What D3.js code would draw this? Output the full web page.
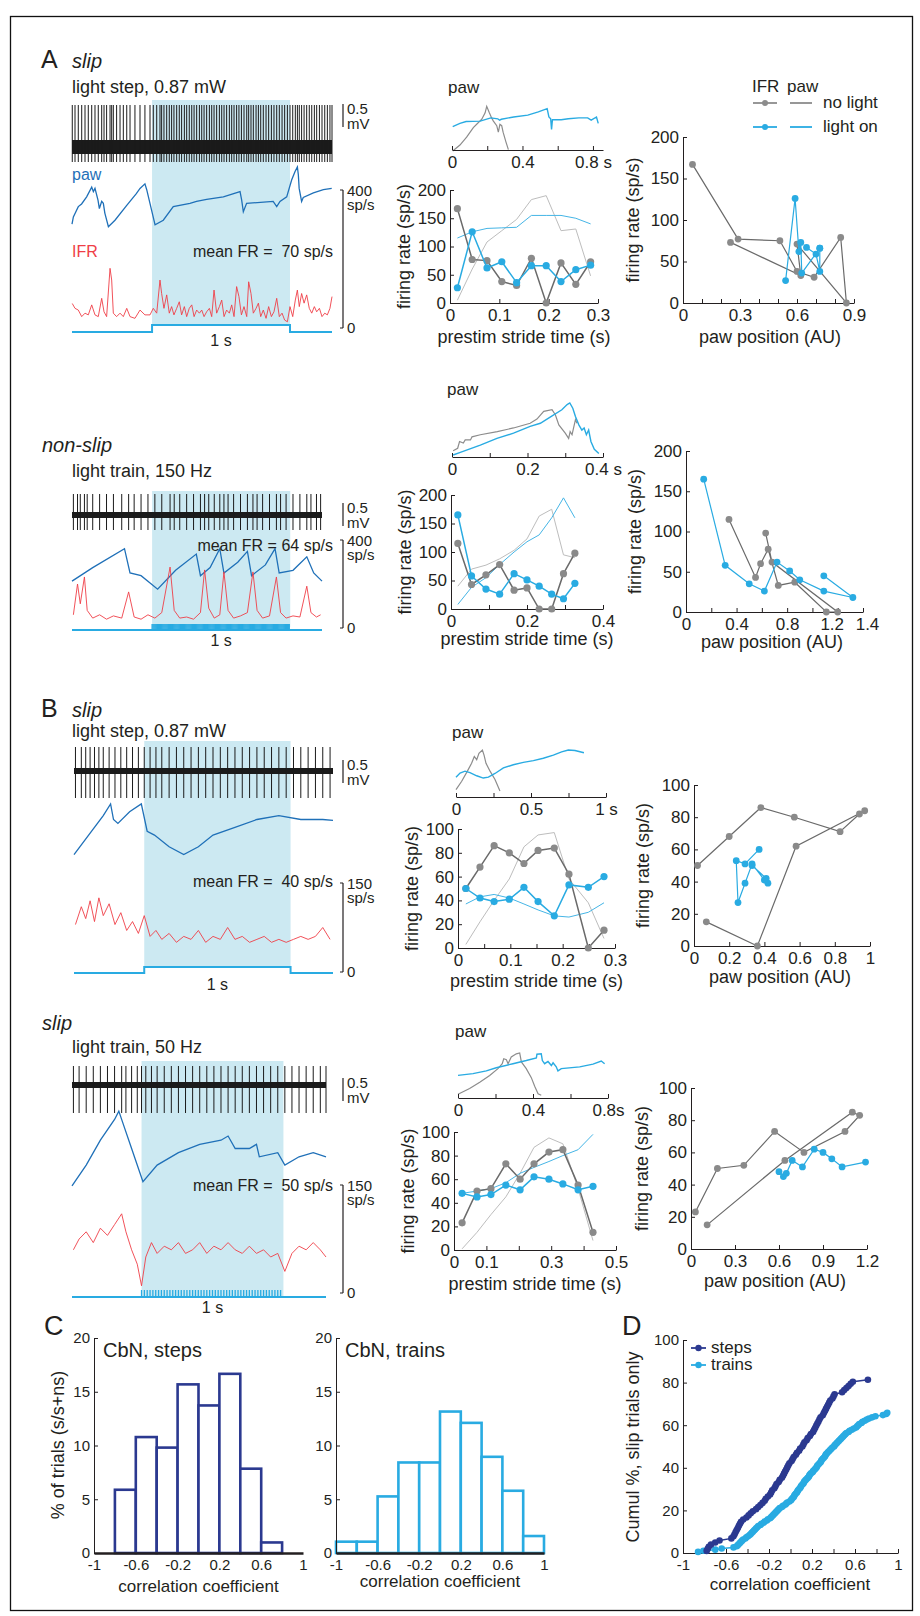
<!DOCTYPE html>
<html>
<head>
<meta charset="utf-8">
<script src="https://cdn.jsdelivr.net/npm/d3@7"></script>
<style>
  body { margin: 0; background: #fff; }
  text { font-family: "Liberation Sans", Arial, Helvetica, sans-serif; }
</style>
</head>
<body>
<svg id="fig" width="920" height="1616"></svg>
<script>
// ---------- colours ----------
const INK = "#231f20"
const GRAY_DOT = "#8a8a8a", GRAY_LINE = "#6a6a6a", GRAY_THIN = "#bdbdbd"
const BLUE = "#29abe2", BLUE_THIN = "#45b5e6"
const LIGHT = "#cce9f2", RED = "#ef3e47", PAW = "#1f70b8"
const STEPS = "#2b3990", TRAINS = "#29abe2"

// ---------- left traces: [time (s), IFR (sp/s)], spikes sit at these times ----------
const aSlipIfr = [[0.002,71],[0.022,57],[0.046,52],[0.071,33],[0.095,43],[0.119,38],[0.144,67],[0.168,38],[0.192,33],[0.217,86],[0.234,47],[0.253,33],[0.278,173],[0.29,139],[0.302,43],[0.326,33],[0.351,43],[0.375,33],[0.4,57],[0.424,33],[0.46,28],[0.497,52],[0.533,38],[0.57,38],[0.594,57],[0.619,43],[0.643,139],[0.655,100],[0.672,57],[0.692,96],[0.711,43],[0.728,62],[0.745,38],[0.765,57],[0.784,76],[0.801,38],[0.821,62],[0.838,33],[0.857,57],[0.875,67],[0.892,33],[0.911,52],[0.931,43],[0.948,52],[0.965,33],[0.984,47],[1.004,57],[1.021,33],[1.038,110],[1.057,43],[1.077,62],[1.094,81],[1.111,33],[1.13,52],[1.15,43],[1.167,67],[1.184,33],[1.203,120],[1.22,91],[1.238,38],[1.257,62],[1.277,33],[1.291,134],[1.308,100],[1.325,43],[1.345,57],[1.362,72],[1.379,33],[1.398,52],[1.418,28],[1.437,62],[1.457,33],[1.476,47],[1.496,86],[1.515,33],[1.535,43],[1.554,23],[1.574,18],[1.593,62],[1.613,33],[1.632,81],[1.647,110],[1.661,62],[1.678,100],[1.696,72],[1.715,96],[1.734,57],[1.752,43],[1.771,62],[1.788,47],[1.808,57],[1.827,33],[1.847,43],[1.866,38],[1.885,57],[1.9,91]]
const aSlipPaw = [[0,0.09],[0.01,0.2],[0.046,0.36],[0.07,0.4],[0.107,0.51],[0.144,0.66],[0.156,0.59],[0.168,0.64],[0.19,0.46],[0.2,0.33],[0.217,0.44],[0.229,0.41],[0.24,0.26],[0.266,0.05],[0.314,0.15],[0.4,0.38],[0.47,0.56],[0.497,0.64],[0.533,0.71],[0.546,0.62],[0.607,0.08],[0.667,0.15],[0.74,0.36],[0.862,0.41],[0.91,0.44],[0.984,0.47],[1.106,0.51],[1.228,0.59],[1.24,0.46],[1.252,0.28],[1.276,0.41],[1.47,0.44],[1.496,0.36],[1.52,0.44],[1.569,0.51],[1.605,0.77],[1.63,0.9],[1.647,0.97],[1.654,0.85],[1.66,0.64],[1.678,0.44],[1.69,0.5],[1.764,0.57],[1.837,0.62],[1.898,0.64]]

const aNsIfr = [[0.01,60],[0.04,200],[0.06,110],[0.09,232],[0.11,80],[0.15,45],[0.2,60],[0.25,40],[0.3,55],[0.36,45],[0.41,164],[0.45,50],[0.5,40],[0.55,60],[0.6,45],[0.65,70],[0.71,277],[0.74,80],[0.78,45],[0.83,50],[0.88,40],[0.93,70],[0.96,264],[0.99,90],[1.03,45],[1.07,60],[1.1,255],[1.13,80],[1.17,45],[1.22,55],[1.27,70],[1.31,255],[1.34,80],[1.38,45],[1.43,55],[1.48,232],[1.51,70],[1.55,45],[1.6,55],[1.65,50],[1.7,190],[1.73,70],[1.77,50],[1.8,60]]
const aNsPaw = [[0,0.35],[0.15,0.6],[0.38,0.95],[0.42,0.5],[0.5,0.45],[0.62,0.2],[0.75,0.55],[0.9,0.85],[0.93,0.45],[1.0,0.6],[1.07,0.95],[1.1,0.5],[1.2,0.7],[1.27,0.9],[1.3,0.45],[1.4,0.65],[1.47,0.95],[1.5,0.5],[1.6,0.55],[1.7,0.8],[1.75,0.5],[1.81,0.35]]

const bSlipIfr = [[0.01,80],[0.05,110],[0.08,90],[0.11,120],[0.14,85],[0.17,125],[0.2,95],[0.24,115],[0.28,80],[0.32,100],[0.36,70],[0.4,85],[0.44,65],[0.48,95],[0.52,60],[0.56,70],[0.6,55],[0.65,65],[0.7,50],[0.75,60],[0.8,55],[0.85,70],[0.9,50],[0.95,60],[1.0,55],[1.05,75],[1.1,55],[1.15,60],[1.2,50],[1.25,55],[1.3,60],[1.35,50],[1.4,55],[1.45,50],[1.5,55],[1.55,60],[1.6,55],[1.65,60],[1.7,75],[1.75,55]]
const bSlipPaw = [[0,0.3],[0.1,0.55],[0.2,0.8],[0.25,0.95],[0.27,0.75],[0.3,0.7],[0.38,0.85],[0.46,0.95],[0.5,0.6],[0.55,0.55],[0.65,0.4],[0.75,0.3],[0.85,0.4],[0.95,0.55],[1.1,0.65],[1.25,0.75],[1.4,0.8],[1.55,0.75],[1.7,0.75],[1.77,0.74]]

const bTrIfr = [[0.01,60],[0.05,75],[0.1,85],[0.15,70],[0.2,90],[0.25,80],[0.3,95],[0.35,110],[0.38,85],[0.42,60],[0.46,40],[0.49,10],[0.52,50],[0.56,70],[0.6,55],[0.65,65],[0.7,60],[0.75,70],[0.8,55],[0.85,60],[0.9,70],[0.95,55],[1.0,65],[1.05,60],[1.1,70],[1.15,60],[1.2,55],[1.25,65],[1.3,55],[1.35,60],[1.4,50],[1.45,55],[1.5,30],[1.55,55],[1.6,65],[1.65,60],[1.7,70],[1.75,60],[1.79,50]]
const bTrPaw = [[0,0.05],[0.1,0.3],[0.2,0.6],[0.3,0.85],[0.33,0.95],[0.36,0.8],[0.42,0.5],[0.5,0.1],[0.6,0.3],[0.75,0.45],[0.9,0.55],[1.05,0.6],[1.1,0.65],[1.15,0.5],[1.25,0.5],[1.3,0.55],[1.32,0.4],[1.45,0.45],[1.5,0.3],[1.6,0.4],[1.7,0.45],[1.79,0.4]]

// ---------- middle: paw vs time in stride [time (s), AU] ----------
const aSlipMiniGray = [[0.004,0],[0.045,0.13],[0.083,0.3],[0.121,0.51],[0.15,0.62],[0.169,0.69],[0.188,0.83],[0.197,0.97],[0.212,0.83],[0.225,0.72],[0.235,0.65],[0.254,0.55],[0.263,0.41],[0.272,0.58],[0.282,0.55],[0.29,0.41],[0.306,0.2],[0.32,0.03]]
const aSlipMiniBlue = [[0.004,0.53],[0.045,0.6],[0.08,0.64],[0.16,0.65],[0.22,0.72],[0.26,0.7],[0.27,0.67],[0.28,0.69],[0.35,0.74],[0.43,0.78],[0.49,0.85],[0.54,0.92],[0.55,0.74],[0.56,0.7],[0.565,0.47],[0.57,0.68],[0.62,0.68],[0.66,0.7],[0.72,0.72],[0.77,0.72],[0.79,0.67],[0.82,0.74],[0.83,0.6]]
const aNsMiniGray = [[0.003,0.08],[0.015,0.13],[0.02,0.26],[0.03,0.23],[0.035,0.29],[0.049,0.29],[0.053,0.35],[0.075,0.39],[0.12,0.45],[0.163,0.52],[0.207,0.61],[0.225,0.69],[0.243,0.84],[0.265,0.87],[0.274,0.77],[0.283,0.58],[0.3,0.42],[0.309,0.32],[0.313,0.45],[0.318,0.39],[0.327,0.68],[0.331,0.61]]
const aNsMiniBlue = [[0.003,0],[0.022,0.05],[0.075,0.19],[0.119,0.32],[0.163,0.42],[0.207,0.55],[0.234,0.61],[0.26,0.73],[0.291,0.87],[0.305,0.97],[0.312,1.0],[0.32,0.9],[0.327,0.74],[0.336,0.58],[0.344,0.48],[0.35,0.52],[0.356,0.39],[0.362,0.48],[0.368,0.26],[0.377,0.11],[0.389,0.03]]
const bSlipMiniGray = [[0,0.14],[0.038,0.32],[0.076,0.54],[0.104,0.71],[0.122,0.86],[0.138,0.79],[0.153,0.93],[0.176,1.0],[0.187,0.89],[0.2,0.71],[0.227,0.54],[0.26,0.36],[0.293,0.11]]
const bSlipMiniBlue = [[0,0.41],[0.027,0.5],[0.06,0.54],[0.093,0.51],[0.138,0.44],[0.182,0.39],[0.216,0.41],[0.26,0.49],[0.316,0.61],[0.382,0.68],[0.449,0.73],[0.516,0.77],[0.582,0.82],[0.649,0.89],[0.704,0.96],[0.749,1.0],[0.793,0.99],[0.853,0.94]]
const bTrMiniGray = [[0,0.06],[0.062,0.19],[0.116,0.33],[0.169,0.48],[0.213,0.63],[0.236,0.74],[0.244,0.85],[0.258,0.83],[0.267,0.74],[0.284,0.89],[0.311,0.96],[0.329,0.98],[0.338,0.78],[0.364,0.63],[0.391,0.43],[0.409,0.24],[0.427,0.07],[0.444,0.04]]
const bTrMiniBlue = [[0,0.48],[0.08,0.52],[0.151,0.58],[0.204,0.65],[0.293,0.74],[0.364,0.81],[0.418,0.87],[0.421,0.95],[0.444,0.96],[0.45,0.81],[0.462,0.74],[0.48,0.79],[0.498,0.7],[0.507,0.76],[0.524,0.67],[0.533,0.58],[0.551,0.63],[0.649,0.67],[0.72,0.73],[0.764,0.8],[0.782,0.74]]

// ---------- middle / right: binned stride values ----------
const aSlipT = [0.015,0.045,0.075,0.105,0.135,0.165,0.195,0.225,0.255,0.285]
const aSlipIfrGray = [167,77,75,38,31,79,0,71,33,73]
const aSlipIfrBlue = [27,126,62,73,36,66,66,38,59,67]
const aSlipPawGray = [5,60,108,128,148,183,190,128,131,48]
const aSlipPawBlue = [115,126,132,133,134,155,155,155,150,140]
const aSlipPosGray = [0.05,0.29,0.51,0.60,0.69,0.83,0.86,0.60,0.62,0.25]
const aSlipPosBlue = [0.54,0.59,0.61,0.62,0.625,0.72,0.72,0.72,0.70,0.65]

const aNsT = [0.018,0.054,0.092,0.128,0.166,0.2,0.232,0.265,0.296,0.326]
const aNsIfrGray = [115,43,60,78,33,37,0,0,62,98]
const aNsIfrBlue = [165,58,35,26,62,51,40,26,18,45]
const aNsPawGray = [40,70,77,88,103,123,163,175,95,90]
const aNsPawBlue = [8,38,55,78,100,118,130,160,195,160]
const aNsPosGray = [0.34,0.55,0.59,0.65,0.73,0.86,1.11,1.2,0.68,0.63]
const aNsPosBlue = [0.14,0.31,0.5,0.62,0.72,0.82,0.9,1.09,1.32,1.09]

const bSlipT = [0.015,0.042,0.069,0.098,0.126,0.153,0.184,0.212,0.249,0.279]
const bSlipIfrGray = [50,68,86,80,71,82,84,62,0,15]
const bSlipIfrBlue = [50,42,39,41,51,39,27,53,51,60]
const bSlipPawGray = [3,22,40,58,85,95,97,58,38,8]
const bSlipPawBlue = [37,43,45,42,37,32,27,26,30,38]
const bSlipPosGray = [0.02,0.2,0.38,0.57,0.83,0.94,0.97,0.58,0.36,0.07]
const bSlipPosBlue = [0.33,0.41,0.42,0.40,0.33,0.29,0.25,0.24,0.29,0.37]

const bTrT = [0.025,0.071,0.114,0.160,0.204,0.247,0.293,0.336,0.383,0.429]
const bTrIfrGray = [23,50,52,73,60,73,83,85,55,15]
const bTrIfrBlue = [48,45,47,55,51,62,60,56,51,54]
const bTrPawGray = [1,15,30,45,65,87,95,90,52,8]
const bTrPawBlue = [48,50,52,57,65,70,75,80,85,98]
const bTrPosGray = [0.03,0.18,0.36,0.57,0.77,1.05,1.15,1.10,0.64,0.11]
const bTrPosBlue = [0.60,0.63,0.65,0.69,0.76,0.84,0.90,0.96,1.03,1.19]

// ---------- C / D: correlation coefficients of slip trials ----------
const stepsTotal = 102
const stepsR = [-0.78,-0.77,-0.76,-0.74,-0.70,-0.66,
  -0.55,-0.53,-0.52,-0.51,-0.50,-0.49,-0.48,-0.47,-0.46,-0.44,-0.41,
  -0.39,-0.37,-0.35,-0.32,-0.30,-0.28,-0.26,-0.24,-0.23,-0.21,
  -0.19,-0.18,-0.17,-0.15,-0.14,-0.13,-0.11,-0.10,-0.08,-0.07,-0.06,-0.05,-0.04,-0.03,-0.02,-0.01,
  0.01,0.02,0.03,0.05,0.06,0.08,0.09,0.11,0.12,0.13,0.15,0.16,0.18,0.19,
  0.21,0.22,0.23,0.24,0.25,0.26,0.27,0.28,0.30,0.31,0.32,0.33,0.34,0.35,0.36,0.37,0.39,
  0.40,0.41,0.48,0.50,0.52,0.54,0.56,0.58,
  0.72]
const trainsTotal = 190
const trainsR = [-0.86,-0.81,-0.70,-0.64,
  -0.53,-0.50,-0.49,-0.48,-0.47,-0.46,-0.45,-0.44,-0.42,-0.41,
  -0.395,-0.38,-0.37,-0.36,-0.35,-0.34,-0.33,-0.32,-0.31,-0.30,-0.28,-0.27,-0.25,-0.24,-0.22,-0.21,
  -0.19,-0.18,-0.17,-0.16,-0.15,-0.14,-0.13,-0.12,-0.11,-0.10,-0.08,-0.07,-0.05,-0.04,-0.03,-0.01,
  0.005,0.01,0.02,0.03,0.035,0.04,0.05,0.06,0.065,0.07,0.08,0.09,0.095,0.10,0.11,0.12,0.125,0.13,0.14,0.15,0.16,0.17,0.175,0.18,0.19,
  0.205,0.21,0.22,0.23,0.24,0.245,0.25,0.26,0.27,0.28,0.285,0.29,0.30,0.31,0.32,0.325,0.33,0.34,0.35,0.36,0.37,0.38,0.39,
  0.405,0.41,0.42,0.43,0.44,0.45,0.46,0.47,0.48,0.49,0.50,0.51,0.52,0.54,0.55,0.57,0.59,
  0.61,0.62,0.63,0.64,0.66,0.67,0.69,0.71,0.73,0.76,0.79,
  0.86,0.89,0.90]
const binEdges = [-0.8,-0.6,-0.4,-0.2,0,0.2,0.4,0.6,0.8]
const corrLabels = [-1,-0.6,-0.2,0.2,0.6,1]

const svg = d3.select("#fig")

function txt(x, y, s, size, o = {}) {
  return svg.append("text").attr("x", x).attr("y", y).text(s)
    .attr("font-size", size).attr("fill", o.fill || INK)
    .attr("text-anchor", o.anchor || "start")
    .attr("font-style", o.italic ? "italic" : null)
    .style("white-space", "pre")
}

function vtxt(x, y, s, size) {
  return svg.append("text").attr("transform", `translate(${x},${y}) rotate(-90)`)
    .attr("text-anchor", "middle").attr("dy", "0.35em")
    .attr("font-size", size).attr("fill", INK).text(s)
}

function num(d) { return String(+d.toFixed(3)) }

function axis(gen, scale, ticks, labels, fmt, inner) {
  return gen(scale).tickValues(ticks).tickSizeInner(inner).tickSizeOuter(0)
    .tickPadding(gen === d3.axisLeft ? 4 : 6)
    .tickFormat(d => labels.some(l => Math.abs(l - d) < 1e-9) ? (fmt || num)(d) : "")
}

function drawAxis(g, size) {
  g.attr("font-size", size).attr("font-family", null)
  g.select(".domain").attr("stroke", INK)
  g.selectAll(".tick line").attr("stroke", INK)
  g.selectAll(".tick text").attr("fill", INK)
  return g
}

// ---------- recording traces ----------
function tracePanel(p) {
  const x = d3.scaleLinear().domain([0, p.tMax]).range([p.x0, p.x1])
  const yPaw = d3.scaleLinear().domain([0, 1]).range([p.pawBottom, p.pawTop])
  const yIfr = d3.scaleLinear().domain([0, p.ifrMax]).range([p.ifrZero, p.ifrTop])
  const g = svg.append("g")

  g.append("rect").attr("x", x(p.on)).attr("y", p.lightTop)
    .attr("width", x(p.off) - x(p.on)).attr("height", p.lightBottom - p.lightTop)
    .attr("fill", LIGHT)

  // extracellular trace: noise band plus one spike per IFR sample
  g.append("rect").attr("x", p.x0).attr("y", p.bandTop)
    .attr("width", p.x1 - p.x0).attr("height", p.bandBottom - p.bandTop).attr("fill", "#1b1b1b")
  g.append("g").selectAll("line").data(p.ifr).join("line")
    .attr("x1", d => x(d[0])).attr("x2", d => x(d[0]))
    .attr("y1", p.spikeTop).attr("y2", p.spikeBottom)
    .attr("stroke", "#1b1b1b").attr("stroke-width", 1)

  g.append("path").datum(p.paw)
    .attr("d", d3.line().x(d => x(d[0])).y(d => yPaw(d[1])))
    .attr("fill", "none").attr("stroke", PAW).attr("stroke-width", 1.3)

  g.append("path").datum(p.ifr)
    .attr("d", d3.line().x(d => x(d[0])).y(d => yIfr(d[1])))
    .attr("fill", "none").attr("stroke", RED).attr("stroke-width", 0.9)

  // light stimulus
  if (p.train) {
    g.append("line").attr("x1", p.x0).attr("x2", p.x1).attr("y1", p.stimLow).attr("y2", p.stimLow)
      .attr("stroke", BLUE).attr("stroke-width", 2)
    const pulses = d3.range(p.on, p.off, 1 / p.train)
    g.append("g").selectAll("line").data(pulses).join("line")
      .attr("x1", d => x(d)).attr("x2", d => x(d))
      .attr("y1", p.stimLow).attr("y2", p.stimHigh)
      .attr("stroke", BLUE).attr("stroke-width", 1.3)
  } else {
    const stim = [[0, 0], [p.on, 0], [p.on, 1], [p.off, 1], [p.off, 0], [p.tMax, 0]]
    g.append("path").datum(stim)
      .attr("d", d3.line().x(d => x(d[0])).y(d => d[1] ? p.stimHigh : p.stimLow))
      .attr("fill", "none").attr("stroke", BLUE).attr("stroke-width", 2)
  }
  txt((x(p.on) + x(p.off)) / 2, p.secY, "1 s", 16, { anchor: "middle" })

  txt(333, p.meanY, p.mean, 16, { anchor: "end" })

  // scale bars
  const sb = 343
  g.append("line").attr("x1", sb).attr("x2", sb).attr("y1", p.mvTop).attr("y2", p.mvBottom)
    .attr("stroke", INK).attr("stroke-width", 1.2)
  txt(sb + 4, p.mvTop + 10, "0.5", 15)
  txt(sb + 4, p.mvTop + 25, "mV", 15)
  g.append("line").attr("x1", sb).attr("x2", sb).attr("y1", yIfr(p.ifrMax)).attr("y2", yIfr(0))
    .attr("stroke", INK).attr("stroke-width", 1.2)
  g.append("g").selectAll("line").data([0, p.ifrMax]).join("line")
    .attr("x1", sb - 3).attr("x2", sb).attr("y1", d => yIfr(d)).attr("y2", d => yIfr(d))
    .attr("stroke", INK)
  txt(sb + 4, yIfr(p.ifrMax) + 6, String(p.ifrMax), 15)
  txt(sb + 4, yIfr(p.ifrMax) + 20, "sp/s", 15)
  txt(sb + 4, yIfr(0) + 5, "0", 15)
}

// ---------- paw position within the stride ----------
function pawMini(p) {
  const x = d3.scaleLinear().domain([0, p.tEnd]).range([p.x0, p.x1])
  const y = d3.scaleLinear().domain([0, 1]).range([p.bottom, p.top])
  txt(p.titleX, p.titleY, "paw", 17)
  const line = d3.line().x(d => x(d[0])).y(d => y(d[1]))
  svg.append("path").datum(p.gray).attr("d", line).attr("fill", "none").attr("stroke", "#8c8c8c").attr("stroke-width", 1.2)
  svg.append("path").datum(p.blue).attr("d", line).attr("fill", "none").attr("stroke", BLUE).attr("stroke-width", 1.4)
  drawAxis(svg.append("g").attr("transform", `translate(0,${p.axisY})`)
    .call(axis(d3.axisBottom, x, p.ticks, p.labels, p.fmt, -4)), 17)
}

// ---------- firing rate across the stride ----------
function frPlot(p) {
  const x = d3.scaleLinear().domain([0, p.xMax]).range([p.left, p.right])
  const y = d3.scaleLinear().domain([0, p.yMax]).range([p.bottom, p.top])
  drawAxis(svg.append("g").attr("transform", `translate(0,${p.bottom})`)
    .call(axis(d3.axisBottom, x, p.xTicks, p.xLabels, null, -4)), 17)
  drawAxis(svg.append("g").attr("transform", `translate(${p.left},0)`)
    .call(axis(d3.axisLeft, y, p.yTicks, p.yTicks, null, -4)), 17)

  const line = d3.line().x(d => x(d[0])).y(d => y(d[1]))
  const series = [
    { v: p.pawGray, stroke: GRAY_THIN, w: 1 },
    { v: p.pawBlue, stroke: BLUE_THIN, w: 1 },
    { v: p.ifrGray, stroke: GRAY_LINE, w: 1.5, dot: GRAY_DOT },
    { v: p.ifrBlue, stroke: BLUE, w: 1.5, dot: BLUE }
  ]
  series.forEach(s => {
    const pts = p.t.map((t, i) => [t, s.v[i]])
    svg.append("path").datum(pts).attr("d", line).attr("fill", "none")
      .attr("stroke", s.stroke).attr("stroke-width", s.w)
    if (s.dot) {
      svg.append("g").selectAll("circle").data(pts).join("circle")
        .attr("cx", d => x(d[0])).attr("cy", d => y(d[1])).attr("r", 3.6).attr("fill", s.dot)
    }
  })
  txt((p.left + p.right) / 2, p.xLabelY, "prestim stride time (s)", 18, { anchor: "middle" })
  vtxt(p.left - 46, (p.top + p.bottom) / 2, "firing rate (sp/s)", 18)
}

// ---------- firing rate against paw position ----------
function scatter(p) {
  const x = d3.scaleLinear().domain([0, p.xMax]).range([p.left, p.right])
  const y = d3.scaleLinear().domain([0, p.yMax]).range([p.bottom, p.top])
  const gx = drawAxis(svg.append("g").attr("transform", `translate(0,${p.bottom})`)
    .call(axis(d3.axisBottom, x, p.xTicks, p.xLabels, null, -4)), 17)
  if (p.nudge) gx.selectAll(".tick text").attr("dx", d => p.nudge[num(d)] || 0)
  drawAxis(svg.append("g").attr("transform", `translate(${p.left},0)`)
    .call(axis(d3.axisLeft, y, p.yTicks, p.yTicks, null, -4)), 17)
  const line = d3.line().x(d => x(d[0])).y(d => y(d[1]))
  const series = [
    { pos: p.posGray, ifr: p.ifrGray, stroke: GRAY_LINE, dot: GRAY_DOT },
    { pos: p.posBlue, ifr: p.ifrBlue, stroke: BLUE, dot: BLUE }
  ]
  series.forEach(s => {
    const pts = s.pos.map((v, i) => [v, s.ifr[i]])
    svg.append("path").datum(pts).attr("d", line).attr("fill", "none")
      .attr("stroke", s.stroke).attr("stroke-width", 1.2)
    svg.append("g").selectAll("circle").data(pts).join("circle")
      .attr("cx", d => x(d[0])).attr("cy", d => y(d[1])).attr("r", 3.4).attr("fill", s.dot)
  })
  txt(p.xLabelX, p.xLabelY, "paw position (AU)", 18, { anchor: "middle" })
  vtxt(p.yLabelX, (p.top + p.bottom) / 2, "firing rate (sp/s)", 18)
}

// ---------- histogram of correlation coefficients ----------
function histPanel(p) {
  const x = d3.scaleLinear().domain([-1, 1]).range([p.left, p.right])
  const y = d3.scaleLinear().domain([0, 20]).range([p.bottom, p.top])
  const bins = d3.bin().domain([-1, 1]).thresholds(binEdges)(p.values).filter(b => b.length)
  svg.append("g").selectAll("rect").data(bins).join("rect")
    .attr("x", b => x(b.x0)).attr("width", b => x(b.x1) - x(b.x0))
    .attr("y", b => y(b.length / p.total * 100))
    .attr("height", b => y(0) - y(b.length / p.total * 100))
    .attr("fill", "#fff").attr("stroke", p.color).attr("stroke-width", 2.6)
  const gx = drawAxis(svg.append("g").attr("transform", `translate(0,${p.bottom})`)
    .call(axis(d3.axisBottom, x, corrLabels, corrLabels, null, 0)), 15)
  gx.select(".domain").attr("stroke-width", 2.6)
  drawAxis(svg.append("g").attr("transform", `translate(${p.left},0)`)
    .call(axis(d3.axisLeft, y, [0, 5, 10, 15, 20], [0, 5, 10, 15, 20], null, -4)), 15)
  txt(p.left + 9, p.top + 19, p.title, 20)
  txt((p.left + p.right) / 2, p.xLabelY, "correlation coefficient", 17, { anchor: "middle" })
}

// ---------- border and panel letters ----------
svg.append("rect").attr("x", 10.5).attr("y", 16.5).attr("width", 902).attr("height", 1594)
  .attr("fill", "none").attr("stroke", "#111").attr("stroke-width", 1.3)
txt(41, 68, "A", 25)
txt(72, 68, "slip", 20, { italic: true })
txt(41, 717, "B", 25)
txt(72, 717, "slip", 20, { italic: true })
txt(44, 1335, "C", 27)
txt(622, 1335, "D", 27)

// ---------- A, slip ----------
txt(72, 93, "light step, 0.87 mW", 18)
txt(72, 180, "paw", 16, { fill: PAW })
txt(72, 257, "IFR", 16, { fill: RED })
tracePanel({ x0: 72, x1: 332, tMax: 1.9, on: 0.585, off: 1.593, lightTop: 100, lightBottom: 325,
  spikeTop: 105, spikeBottom: 162, bandTop: 140, bandBottom: 154, pawTop: 165, pawBottom: 230,
  ifr: aSlipIfr, paw: aSlipPaw, ifrMax: 400, ifrZero: 328, ifrTop: 190, stimLow: 332, stimHigh: 325,
  secY: 346, mean: "mean FR =  70 sp/s", meanY: 257, mvTop: 104, mvBottom: 127 })

pawMini({ tEnd: 0.857, x0: 452, x1: 603, bottom: 151, top: 105, axisY: 150, titleX: 448, titleY: 93,
  gray: aSlipMiniGray, blue: aSlipMiniBlue, ticks: [0, 0.2, 0.4, 0.6, 0.8], labels: [0, 0.4, 0.8],
  fmt: d => d === 0.8 ? "0.8 s" : num(d) })
frPlot({ left: 450, right: 598, xMax: 0.3, bottom: 303, top: 190, yMax: 200, t: aSlipT,
  xTicks: [0, 0.1, 0.2, 0.3], xLabels: [0, 0.1, 0.2, 0.3], yTicks: [0, 50, 100, 150, 200],
  ifrGray: aSlipIfrGray, ifrBlue: aSlipIfrBlue, pawGray: aSlipPawGray, pawBlue: aSlipPawBlue, xLabelY: 343 })
scatter({ left: 683, right: 854, xMax: 0.9, bottom: 303, top: 137, yMax: 200,
  xTicks: [0, 0.1, 0.2, 0.3, 0.4, 0.5, 0.6, 0.7, 0.8, 0.9], xLabels: [0, 0.3, 0.6, 0.9], yTicks: [0, 50, 100, 150, 200],
  posGray: aSlipPosGray, ifrGray: aSlipIfrGray, posBlue: aSlipPosBlue, ifrBlue: aSlipIfrBlue,
  xLabelX: 770, xLabelY: 343, yLabelX: 633 })

// legend
txt(752, 92, "IFR", 17)
txt(787, 92, "paw", 17)
const legendRows = [{ y: 103, c: "#8c8c8c", label: "no light" }, { y: 127, c: BLUE, label: "light on" }]
legendRows.forEach(r => {
  svg.append("line").attr("x1", 753).attr("x2", 777).attr("y1", r.y).attr("y2", r.y).attr("stroke", r.c).attr("stroke-width", 1.8)
  svg.append("circle").attr("cx", 765).attr("cy", r.y).attr("r", 3).attr("fill", r.c)
  svg.append("line").attr("x1", 790).attr("x2", 812).attr("y1", r.y).attr("y2", r.y).attr("stroke", r.c).attr("stroke-width", 1.8)
  txt(823, r.y + 5, r.label, 17)
})

// ---------- A, non-slip ----------
txt(42, 452, "non-slip", 20, { italic: true })
txt(72, 477, "light train, 150 Hz", 18)
tracePanel({ x0: 72, x1: 322, tMax: 1.81, on: 0.58, off: 1.58, lightTop: 491, lightBottom: 627,
  spikeTop: 494, spikeBottom: 530, bandTop: 512, bandBottom: 518, pawTop: 546, pawBottom: 600,
  ifr: aNsIfr, paw: aNsPaw, ifrMax: 400, ifrZero: 628, ifrTop: 540, stimLow: 630, stimHigh: 624, train: 150,
  secY: 646, mean: "mean FR = 64 sp/s", meanY: 551, mvTop: 503, mvBottom: 526 })
pawMini({ tEnd: 0.4, x0: 452, x1: 603, bottom: 455, top: 403, axisY: 457, titleX: 447, titleY: 395,
  gray: aNsMiniGray, blue: aNsMiniBlue, ticks: [0, 0.1, 0.2, 0.3, 0.4], labels: [0, 0.2, 0.4],
  fmt: d => d === 0.4 ? "0.4 s" : num(d) })
frPlot({ left: 451, right: 603, xMax: 0.4, bottom: 609, top: 495, yMax: 200, t: aNsT,
  xTicks: [0, 0.1, 0.2, 0.3, 0.4], xLabels: [0, 0.2, 0.4], yTicks: [0, 50, 100, 150, 200],
  ifrGray: aNsIfrGray, ifrBlue: aNsIfrBlue, pawGray: aNsPawGray, pawBlue: aNsPawBlue, xLabelY: 645 })
scatter({ left: 686, right: 863, xMax: 1.4, bottom: 612, top: 451, yMax: 200,
  xTicks: [0, 0.2, 0.4, 0.6, 0.8, 1.0, 1.2, 1.4], xLabels: [0, 0.4, 0.8, 1.2, 1.4], yTicks: [0, 50, 100, 150, 200],
  posGray: aNsPosGray, ifrGray: aNsIfrGray, posBlue: aNsPosBlue, ifrBlue: aNsIfrBlue,
  nudge: { "1.2": -6, "1.4": 4 },
  xLabelX: 772, xLabelY: 648, yLabelX: 635 })

// ---------- B, slip (step) ----------
txt(72, 737, "light step, 0.87 mW", 18)
tracePanel({ x0: 74, x1: 333, tMax: 1.77, on: 0.48, off: 1.48, lightTop: 741, lightBottom: 967,
  spikeTop: 747, spikeBottom: 798, bandTop: 768, bandBottom: 774, pawTop: 800, pawBottom: 878,
  ifr: bSlipIfr, paw: bSlipPaw, ifrMax: 150, ifrZero: 972, ifrTop: 883, stimLow: 973, stimHigh: 967,
  secY: 990, mean: "mean FR =  40 sp/s", meanY: 887, mvTop: 760, mvBottom: 783 })
pawMini({ tEnd: 1, x0: 456, x1: 606, bottom: 796, top: 750, axisY: 797, titleX: 452, titleY: 738,
  gray: bSlipMiniGray, blue: bSlipMiniBlue, ticks: [0, 0.25, 0.5, 0.75, 1], labels: [0, 0.5, 1],
  fmt: d => d === 1 ? "1 s" : num(d) })
frPlot({ left: 458, right: 615, xMax: 0.3, bottom: 948, top: 829, yMax: 100, t: bSlipT,
  xTicks: [0, 0.05, 0.1, 0.15, 0.2, 0.25, 0.3], xLabels: [0, 0.1, 0.2, 0.3], yTicks: [0, 20, 40, 60, 80, 100],
  ifrGray: bSlipIfrGray, ifrBlue: bSlipIfrBlue, pawGray: bSlipPawGray, pawBlue: bSlipPawBlue, xLabelY: 987 })
scatter({ left: 694, right: 870, xMax: 1, bottom: 946, top: 785, yMax: 100,
  xTicks: [0, 0.2, 0.4, 0.6, 0.8, 1], xLabels: [0, 0.2, 0.4, 0.6, 0.8, 1], yTicks: [0, 20, 40, 60, 80, 100],
  posGray: bSlipPosGray, ifrGray: bSlipIfrGray, posBlue: bSlipPosBlue, ifrBlue: bSlipIfrBlue,
  xLabelX: 780, xLabelY: 983, yLabelX: 643 })

// ---------- B, slip (train) ----------
txt(42, 1030, "slip", 20, { italic: true })
txt(72, 1053, "light train, 50 Hz", 18)
tracePanel({ x0: 72, x1: 326, tMax: 1.79, on: 0.49, off: 1.49, lightTop: 1061, lightBottom: 1297,
  spikeTop: 1066, spikeBottom: 1113, bandTop: 1082, bandBottom: 1088, pawTop: 1107, pawBottom: 1190,
  ifr: bTrIfr, paw: bTrPaw, ifrMax: 150, ifrZero: 1293, ifrTop: 1185, stimLow: 1297, stimHigh: 1290, train: 50,
  secY: 1313, mean: "mean FR =  50 sp/s", meanY: 1191, mvTop: 1078, mvBottom: 1101 })
pawMini({ tEnd: 0.8, x0: 458, x1: 608, bottom: 1097, top: 1052, axisY: 1098, titleX: 455, titleY: 1037,
  gray: bTrMiniGray, blue: bTrMiniBlue, ticks: [0, 0.2, 0.4, 0.6, 0.8], labels: [0, 0.4, 0.8],
  fmt: d => d === 0.8 ? "0.8s" : num(d) })
frPlot({ left: 454, right: 616, xMax: 0.5, bottom: 1250, top: 1132, yMax: 100, t: bTrT,
  xTicks: [0, 0.1, 0.2, 0.3, 0.4, 0.5], xLabels: [0, 0.1, 0.3, 0.5], yTicks: [0, 20, 40, 60, 80, 100],
  ifrGray: bTrIfrGray, ifrBlue: bTrIfrBlue, pawGray: bTrPawGray, pawBlue: bTrPawBlue, xLabelY: 1290 })
scatter({ left: 691, right: 867, xMax: 1.2, bottom: 1249, top: 1088, yMax: 100,
  xTicks: [0, 0.3, 0.6, 0.9, 1.2], xLabels: [0, 0.3, 0.6, 0.9, 1.2], yTicks: [0, 20, 40, 60, 80, 100],
  posGray: bTrPosGray, ifrGray: bTrIfrGray, posBlue: bTrPosBlue, ifrBlue: bTrIfrBlue,
  xLabelX: 775, xLabelY: 1287, yLabelX: 642 })

// ---------- C ----------
histPanel({ left: 94, right: 303, bottom: 1553, top: 1338, values: stepsR, total: stepsTotal,
  color: STEPS, title: "CbN, steps", xLabelY: 1592 })
histPanel({ left: 336, right: 544, bottom: 1553, top: 1338, values: trainsR, total: trainsTotal,
  color: TRAINS, title: "CbN, trains", xLabelY: 1587 })
vtxt(58, 1445, "% of trials (s/s+ns)", 18)

// ---------- D ----------
{
  const x = d3.scaleLinear().domain([-1, 1]).range([683, 898])
  const y = d3.scaleLinear().domain([0, 100]).range([1553, 1340])
  drawAxis(svg.append("g").attr("transform", "translate(0,1553)")
    .call(axis(d3.axisBottom, x, d3.range(-1, 1.01, 0.2).map(v => +v.toFixed(1)), corrLabels, null, -4)), 15)
  drawAxis(svg.append("g").attr("transform", "translate(683,0)")
    .call(axis(d3.axisLeft, y, [0, 20, 40, 60, 80, 100], [0, 20, 40, 60, 80, 100], null, -4)), 15)
  const curves = [{ r: trainsR, total: trainsTotal, c: TRAINS }, { r: stepsR, total: stepsTotal, c: STEPS }]
  curves.forEach(cv => {
    const pts = cv.r.slice().sort(d3.ascending).map((v, i) => [v, (i + 1) / cv.total * 100])
    svg.append("path").datum(pts).attr("d", d3.line().x(d => x(d[0])).y(d => y(d[1])))
      .attr("fill", "none").attr("stroke", cv.c).attr("stroke-width", 1.5)
    svg.append("g").selectAll("circle").data(pts).join("circle")
      .attr("cx", d => x(d[0])).attr("cy", d => y(d[1])).attr("r", 3.3).attr("fill", cv.c)
  })
  const leg = [{ y: 1348, c: STEPS, label: "steps" }, { y: 1365, c: TRAINS, label: "trains" }]
  leg.forEach(l => {
    svg.append("line").attr("x1", 691).attr("x2", 706).attr("y1", l.y).attr("y2", l.y).attr("stroke", l.c).attr("stroke-width", 1.8)
    svg.append("circle").attr("cx", 698.5).attr("cy", l.y).attr("r", 3.2).attr("fill", l.c)
    txt(711, l.y + 5, l.label, 17)
  })
  txt(790, 1590, "correlation coefficient", 17, { anchor: "middle" })
  vtxt(633, 1447, "Cumul %, slip trials only", 18)
}
</script>
</body>
</html>
